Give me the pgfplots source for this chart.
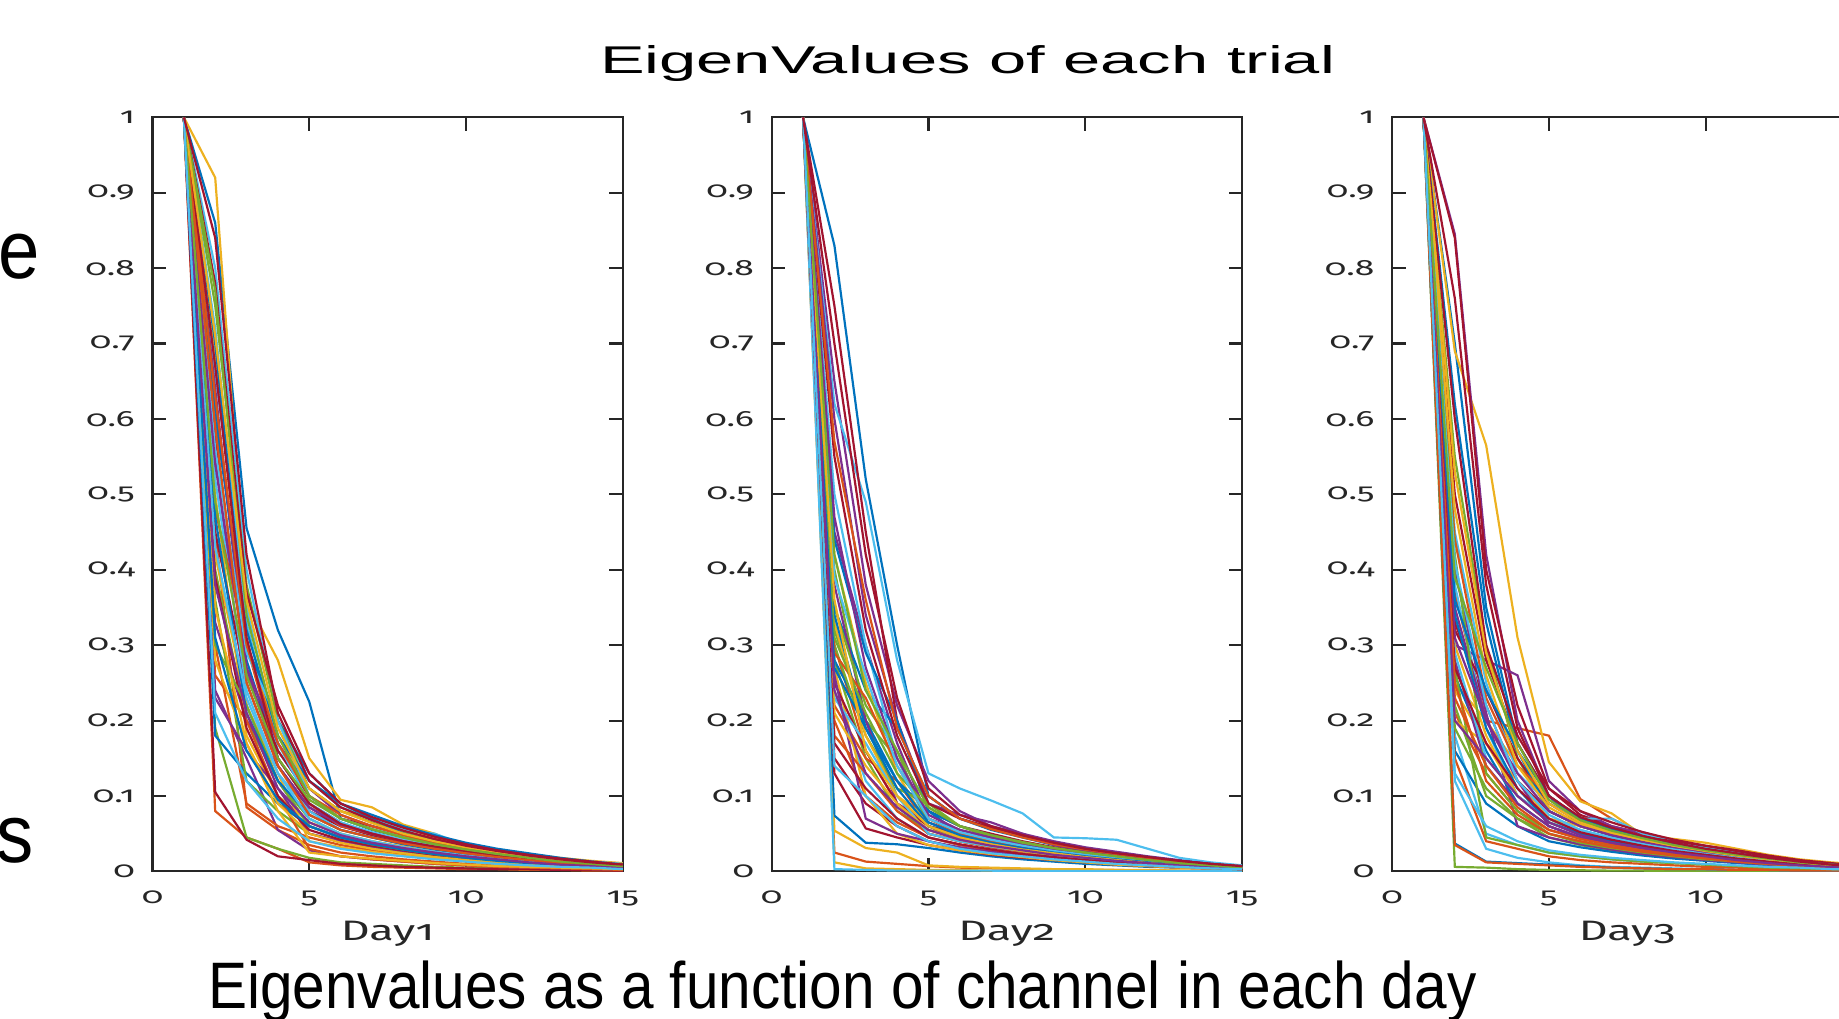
\documentclass[border=0pt]{standalone}
\usepackage{pgfplots}
\pgfplotsset{compat=1.18}
\usepackage{fontspec}
\setmainfont{Liberation Sans}
\newfontfamily\ticfont[Numbers=OldStyle,FakeStretch=1.6]{Fira Sans}
\newfontfamily\titfont[FakeStretch=1.73]{Liberation Sans}
\newfontfamily\capfont[FakeStretch=0.89]{Liberation Sans}
\newfontfamily\edgefont[FakeStretch=0.9]{Liberation Sans}

\definecolor{axgray}{HTML}{262626}
\definecolor{m1}{HTML}{0072BD}
\definecolor{m2}{HTML}{D95319}
\definecolor{m3}{HTML}{EDB120}
\definecolor{m4}{HTML}{7E2F8E}
\definecolor{m5}{HTML}{77AC30}
\definecolor{m6}{HTML}{4DBEEE}
\definecolor{m7}{HTML}{A2142F}

% one trial: eigenvalues of channels 1..15
\newcommand\tr[1]{%
  \gdef\pts{}%
  \foreach[count=\k] \v in {#1}{\xdef\pts{\pts(\k,\v)}}%
  \edef\trnext{\noexpand\addplot coordinates {\pts};}\trnext}

\pgfplotsset{
  evax/.style={
    scale only axis, width=4.703cm, height=7.541cm,
    anchor=south west,
    xmin=0, xmax=15, ymin=0, ymax=1,
    xtick={0,5,10,15},
    ytick={0,0.1,0.2,0.3,0.4,0.5,0.6,0.7,0.8,0.9,1},
    tick align=inside, tick pos=both,
    xticklabel pos=lower, yticklabel pos=left,
    major tick length=0.135cm,
    axis line style={draw=axgray,line width=0.6pt},
    tick style={draw=axgray,line width=0.6pt},
    /pgf/number format/assume math mode=true,
    xticklabel style={font=\ticfont\fontsize{6.3}{7}\selectfont,text=axgray,
      anchor=base,inner sep=0pt,yshift=-0.32cm},
    yticklabel style={font=\ticfont\fontsize{6.3}{7}\selectfont,text=axgray,
      anchor=east,inner sep=0pt,xshift=-0.17cm},
    xlabel style={font=\ticfont\fontsize{8}{9}\selectfont,text=axgray,
      at={(axis description cs:0.5,0)},anchor=base,inner sep=0pt,yshift=-0.69cm},
    cycle list={{m1},{m2},{m3},{m4},{m5},{m6},{m7}},
    no markers,
    every axis plot/.append style={line width=0.62pt},
  }
}

\begin{document}
\begin{tikzpicture}
\useasboundingbox (0,0) rectangle (18.39cm,10.18cm);
\clip (0,0) rectangle (18.39cm,10.18cm);

\node[font=\titfont\fontsize{11}{13}\selectfont,anchor=base,inner sep=0pt]
  at (9.676cm,9.44cm) {EigenValues of each trial};

\begin{axis}[evax, at={(1.525cm,1.466cm)}, xlabel={Day1}]
\tr{1,.86,.455,.32,.225,.07,.055,.045,.036,.028,.022,.017,.013,.01,.007}
\tr{1,.08,.045,.03,.012,.008,.006,.005,.004,.003,.003,.002,.002,.001,.001}
\tr{1,.92,.36,.28,.15,.095,.085,.062,.05,.032,.028,.023,.018,.014,.011}
\tr{1,.55,.22,.12,.06,.045,.035,.028,.022,.017,.013,.01,.008,.006,.004}
\tr{1,.19,.045,.03,.018,.012,.01,.008,.006,.005,.004,.003,.003,.002,.002}
\tr{1,.72,.33,.16,.1,.07,.06,.05,.045,.035,.025,.02,.016,.012,.009}
\tr{1,.105,.042,.02,.015,.01,.008,.006,.005,.004,.003,.003,.002,.002,.001}
\tr{1,.62,.28,.15,.09,.065,.05,.04,.032,.025,.02,.016,.012,.009,.006}
\tr{1,.45,.085,.055,.035,.025,.02,.016,.013,.01,.008,.006,.005,.004,.003}
\tr{1,.68,.3,.18,.11,.08,.07,.058,.045,.03,.024,.019,.015,.012,.009}
\tr{1,.24,.15,.055,.028,.02,.016,.013,.01,.008,.006,.005,.004,.003,.002}
\tr{1,.4,.2,.12,.07,.05,.04,.032,.026,.02,.016,.013,.01,.008,.006}
\tr{1,.8,.4,.2,.12,.085,.07,.055,.05,.035,.028,.022,.017,.013,.01}
\tr{1,.58,.26,.16,.1,.07,.06,.05,.042,.033,.026,.02,.016,.012,.008}
\tr{1,.18,.13,.09,.06,.045,.036,.029,.023,.018,.014,.011,.009,.007,.005}
\tr{1,.3,.09,.06,.045,.035,.028,.022,.018,.014,.011,.009,.007,.005,.004}
\tr{1,.5,.18,.1,.065,.05,.04,.033,.026,.02,.016,.013,.01,.008,.006}
\tr{1,.33,.2,.14,.085,.06,.05,.04,.032,.025,.02,.016,.012,.009,.006}
\tr{1,.36,.12,.08,.05,.04,.032,.026,.021,.017,.013,.01,.008,.006,.004}
\tr{1,.66,.35,.17,.09,.065,.052,.042,.034,.027,.021,.017,.013,.01,.007}
\tr{1,.45,.25,.14,.08,.06,.048,.038,.03,.024,.019,.015,.012,.009,.006}
\tr{1,.7,.3,.2,.13,.09,.075,.06,.048,.038,.03,.024,.018,.013,.009}
\tr{1,.26,.2,.1,.03,.02,.016,.013,.01,.008,.006,.005,.004,.003,.002}
\tr{1,.42,.22,.13,.04,.032,.026,.021,.017,.013,.01,.008,.006,.005,.004}
\tr{1,.23,.16,.11,.05,.04,.033,.027,.022,.017,.013,.01,.008,.006,.004}
\tr{1,.75,.38,.2,.11,.08,.065,.052,.04,.032,.025,.02,.015,.012,.009}
\tr{1,.52,.24,.13,.08,.055,.045,.036,.03,.024,.019,.015,.012,.009,.006}
\tr{1,.39,.19,.1,.055,.042,.034,.028,.022,.018,.014,.011,.009,.007,.005}
\tr{1,.6,.32,.18,.12,.09,.07,.05,.04,.032,.026,.02,.015,.011,.008}
\tr{1,.48,.3,.15,.09,.06,.05,.04,.032,.025,.02,.016,.012,.009,.006}
\tr{1,.28,.17,.08,.025,.02,.017,.014,.011,.009,.007,.006,.005,.004,.003}
\tr{1,.64,.27,.17,.11,.075,.06,.048,.038,.03,.024,.019,.014,.011,.008}
\tr{1,.3,.22,.12,.06,.045,.036,.029,.023,.018,.014,.011,.009,.007,.005}
\tr{1,.56,.29,.2,.1,.07,.056,.046,.037,.03,.024,.019,.015,.011,.008}
\tr{1,.78,.37,.22,.13,.09,.072,.058,.046,.036,.028,.022,.017,.013,.009}
\tr{1,.47,.21,.12,.075,.055,.045,.036,.029,.023,.018,.014,.011,.008,.006}
\tr{1,.63,.3,.17,.1,.075,.06,.048,.038,.03,.024,.019,.014,.01,.007}
\tr{1,.35,.17,.09,.05,.038,.03,.024,.019,.015,.012,.009,.007,.005,.004}
\tr{1,.54,.27,.14,.085,.062,.05,.04,.032,.026,.02,.016,.012,.009,.006}
\tr{1,.77,.34,.18,.1,.07,.056,.045,.036,.029,.023,.018,.014,.01,.007}
\tr{1,.43,.23,.13,.07,.05,.04,.032,.026,.021,.017,.013,.01,.007,.005}
\tr{1,.67,.31,.15,.09,.063,.05,.04,.033,.027,.021,.016,.012,.009,.006}
\tr{1,.31,.16,.095,.06,.045,.036,.029,.023,.018,.014,.011,.009,.007,.005}
\tr{1,.59,.25,.14,.075,.055,.045,.037,.03,.024,.019,.015,.011,.008,.006}
\tr{1,.71,.36,.19,.11,.08,.064,.05,.04,.032,.026,.02,.015,.011,.008}
\tr{1,.38,.21,.11,.065,.048,.038,.031,.025,.02,.016,.012,.009,.007,.005}
\tr{1,.49,.26,.15,.095,.07,.056,.045,.036,.029,.023,.018,.013,.01,.007}
\tr{1,.21,.12,.07,.04,.03,.024,.02,.016,.013,.01,.008,.006,.005,.003}
\tr{1,.84,.42,.21,.12,.085,.068,.054,.043,.034,.027,.021,.016,.012,.009}
\end{axis}

\begin{axis}[evax, at={(7.717cm,1.466cm)}, xlabel={Day2}]
\tr{1,.83,.52,.3,.1,.07,.055,.045,.035,.028,.022,.017,.013,.009,.006}
\tr{1,.025,.013,.01,.007,.005,.004,.003,.003,.002,.002,.001,.001,.001,.001}
\tr{1,.054,.031,.025,.008,.006,.005,.004,.003,.003,.002,.002,.001,.001,.001}
\tr{1,.65,.38,.22,.12,.08,.06,.05,.04,.032,.026,.02,.015,.011,.007}
\tr{1,.4,.2,.1,.05,.04,.033,.027,.022,.018,.014,.011,.008,.006,.004}
\tr{1,.62,.49,.28,.13,.11,.094,.077,.045,.044,.042,.03,.018,.012,.008}
\tr{1,.75,.45,.2,.08,.06,.05,.04,.032,.026,.02,.016,.012,.009,.006}
\tr{1,.074,.038,.036,.031,.025,.02,.016,.013,.01,.008,.006,.005,.004,.003}
\tr{1,.3,.16,.09,.05,.04,.032,.026,.021,.017,.013,.01,.008,.006,.004}
\tr{1,.012,.004,.003,.002,.002,.001,.001,.001,.001,.001,.001,.001,.0005,.0005}
\tr{1,.45,.3,.17,.07,.055,.045,.038,.03,.024,.019,.015,.011,.008,.005}
\tr{1,.28,.15,.08,.055,.045,.036,.029,.023,.018,.014,.011,.008,.006,.004}
\tr{1,.003,.002,.001,.001,.001,.001,.0008,.0006,.0005,.0004,.0003,.0003,.0002,.0002}
\tr{1,.15,.09,.06,.04,.03,.024,.02,.016,.013,.01,.008,.006,.005,.003}
\tr{1,.35,.24,.19,.1,.07,.058,.047,.038,.03,.024,.019,.014,.01,.006}
\tr{1,.22,.15,.12,.06,.04,.032,.026,.021,.017,.013,.01,.008,.006,.004}
\tr{1,.42,.25,.13,.06,.045,.036,.03,.024,.019,.015,.012,.009,.007,.005}
\tr{1,.6,.34,.2,.09,.075,.065,.05,.035,.028,.023,.018,.014,.01,.006}
\tr{1,.32,.2,.15,.07,.05,.04,.032,.026,.02,.016,.012,.009,.007,.005}
\tr{1,.24,.12,.07,.045,.035,.028,.023,.019,.015,.012,.009,.007,.005,.003}
\tr{1,.13,.057,.045,.035,.028,.022,.018,.015,.012,.009,.007,.005,.004,.003}
\tr{1,.28,.2,.12,.08,.06,.048,.038,.03,.024,.019,.015,.011,.008,.005}
\tr{1,.2,.1,.065,.045,.035,.028,.023,.019,.015,.012,.009,.007,.005,.003}
\tr{1,.27,.1,.05,.035,.028,.023,.019,.015,.012,.009,.007,.005,.004,.003}
\tr{1,.38,.2,.09,.065,.05,.04,.032,.026,.02,.016,.012,.009,.007,.005}
\tr{1,.3,.18,.11,.09,.06,.045,.036,.029,.023,.018,.014,.01,.007,.005}
\tr{1,.5,.3,.15,.06,.05,.04,.033,.027,.021,.016,.012,.009,.006,.004}
\tr{1,.25,.16,.09,.06,.05,.045,.038,.03,.024,.019,.015,.011,.008,.005}
\tr{1,.44,.29,.2,.08,.05,.04,.033,.027,.022,.017,.013,.01,.007,.005}
\tr{1,.18,.13,.08,.05,.04,.032,.026,.021,.017,.013,.01,.008,.006,.004}
\tr{1,.33,.18,.1,.07,.05,.04,.032,.026,.021,.016,.012,.009,.007,.005}
\tr{1,.26,.07,.05,.04,.032,.026,.021,.017,.014,.011,.008,.006,.005,.003}
\tr{1,.35,.22,.16,.06,.045,.036,.029,.023,.018,.014,.011,.008,.006,.004}
\tr{1,.23,.17,.1,.05,.04,.033,.027,.022,.018,.014,.011,.008,.006,.004}
\tr{1,.55,.32,.18,.09,.07,.058,.048,.038,.03,.024,.019,.014,.01,.007}
\tr{1,.34,.19,.11,.06,.045,.036,.029,.023,.018,.014,.011,.008,.006,.004}
\tr{1,.29,.23,.14,.07,.05,.04,.033,.027,.021,.017,.013,.01,.007,.005}
\tr{1,.21,.14,.09,.055,.042,.034,.027,.022,.018,.014,.011,.008,.006,.004}
\tr{1,.47,.27,.15,.075,.055,.045,.036,.029,.023,.018,.014,.01,.007,.005}
\tr{1,.31,.21,.13,.085,.06,.048,.038,.031,.025,.019,.015,.011,.008,.005}
\tr{1,.39,.26,.14,.07,.052,.042,.034,.027,.022,.017,.013,.01,.007,.005}
\tr{1,.17,.11,.07,.045,.036,.029,.023,.019,.015,.012,.009,.007,.005,.003}
\tr{1,.27,.19,.12,.065,.048,.038,.031,.025,.02,.016,.012,.009,.006,.004}
\tr{1,.57,.36,.19,.1,.07,.056,.045,.036,.029,.023,.018,.013,.009,.006}
\tr{1,.36,.16,.1,.06,.045,.036,.029,.024,.019,.015,.011,.008,.006,.004}
\tr{1,.24,.13,.085,.055,.042,.034,.028,.022,.018,.014,.011,.008,.006,.004}
\tr{1,.42,.24,.16,.085,.06,.048,.039,.031,.025,.02,.015,.011,.008,.005}
\tr{1,.14,.1,.06,.04,.03,.024,.02,.016,.013,.01,.008,.006,.004,.003}
\tr{1,.7,.42,.23,.11,.075,.06,.048,.038,.03,.024,.019,.014,.01,.007}
\end{axis}

\begin{axis}[evax, at={(13.921cm,1.466cm)}, xlabel={Day3}, xtick={0,5,10}]
\tr{1,.7,.35,.17,.1,.06,.048,.038,.03,.024,.019,.015,.011,.008,.005}
\tr{1,.37,.2,.19,.18,.096,.07,.05,.038,.03,.024,.018,.013,.009,.006}
\tr{1,.69,.565,.31,.145,.093,.077,.048,.043,.038,.03,.022,.016,.012,.009}
\tr{1,.845,.42,.2,.1,.07,.058,.052,.04,.03,.024,.018,.013,.009,.006}
\tr{1,.006,.005,.003,.002,.0015,.001,.001,.0008,.0006,.0005,.0004,.0003,.0002,.0002}
\tr{1,.12,.03,.018,.012,.008,.006,.005,.004,.003,.002,.002,.001,.001,.001}
\tr{1,.84,.4,.22,.11,.075,.06,.05,.04,.032,.026,.02,.014,.01,.007}
\tr{1,.037,.013,.011,.009,.007,.005,.004,.003,.003,.002,.002,.001,.001,.001}
\tr{1,.21,.13,.08,.055,.045,.036,.029,.023,.018,.014,.011,.008,.006,.004}
\tr{1,.25,.2,.14,.09,.07,.055,.045,.036,.028,.022,.017,.013,.009,.006}
\tr{1,.3,.28,.26,.12,.08,.06,.05,.04,.032,.025,.019,.014,.01,.007}
\tr{1,.22,.1,.07,.045,.035,.028,.023,.019,.015,.012,.009,.007,.005,.003}
\tr{1,.18,.05,.035,.025,.02,.016,.013,.011,.009,.007,.005,.004,.003,.002}
\tr{1,.33,.22,.12,.08,.06,.05,.045,.04,.033,.026,.02,.014,.01,.007}
\tr{1,.16,.09,.06,.04,.032,.026,.021,.017,.014,.011,.008,.006,.005,.003}
\tr{1,.15,.04,.03,.02,.015,.012,.01,.008,.006,.005,.004,.003,.002,.001}
\tr{1,.2,.17,.12,.07,.05,.04,.032,.026,.021,.016,.012,.009,.007,.005}
\tr{1,.4,.21,.06,.045,.036,.029,.023,.019,.015,.012,.009,.007,.005,.003}
\tr{1,.55,.3,.15,.08,.06,.048,.04,.033,.027,.021,.016,.012,.009,.006}
\tr{1,.38,.19,.1,.07,.055,.045,.037,.03,.024,.019,.014,.01,.007,.005}
\tr{1,.5,.28,.17,.1,.07,.056,.046,.038,.031,.025,.019,.014,.01,.007}
\tr{1,.26,.16,.09,.06,.045,.036,.029,.023,.018,.014,.011,.008,.006,.004}
\tr{1,.035,.012,.01,.008,.006,.005,.004,.003,.003,.002,.002,.001,.001,.001}
\tr{1,.24,.17,.1,.065,.05,.04,.033,.027,.022,.017,.013,.01,.007,.005}
\tr{1,.28,.14,.09,.06,.045,.036,.03,.025,.02,.016,.012,.009,.006,.004}
\tr{1,.27,.045,.035,.025,.02,.016,.013,.011,.009,.007,.005,.004,.003,.002}
\tr{1,.45,.25,.13,.09,.07,.07,.05,.04,.032,.025,.019,.014,.01,.007}
\tr{1,.32,.24,.15,.09,.065,.052,.045,.04,.034,.028,.021,.015,.011,.007}
\tr{1,.62,.33,.16,.08,.06,.048,.039,.031,.025,.02,.015,.011,.008,.005}
\tr{1,.44,.23,.14,.1,.07,.056,.045,.036,.029,.023,.017,.012,.009,.006}
\tr{1,.3,.18,.1,.07,.06,.05,.04,.033,.026,.02,.015,.011,.008,.005}
\tr{1,.35,.2,.12,.06,.045,.036,.029,.023,.018,.014,.011,.008,.006,.004}
\tr{1,.42,.13,.08,.05,.04,.033,.027,.022,.018,.014,.011,.008,.006,.004}
\tr{1,.29,.15,.1,.07,.05,.04,.033,.027,.021,.016,.012,.009,.006,.004}
\tr{1,.6,.3,.18,.11,.08,.065,.052,.042,.034,.027,.02,.014,.01,.007}
\tr{1,.34,.19,.11,.065,.05,.04,.033,.027,.021,.016,.012,.009,.006,.004}
\tr{1,.23,.14,.085,.055,.043,.035,.028,.023,.018,.014,.011,.008,.006,.004}
\tr{1,.48,.26,.14,.085,.062,.05,.04,.033,.026,.02,.015,.011,.008,.005}
\tr{1,.31,.2,.13,.08,.06,.048,.039,.031,.025,.019,.015,.011,.008,.005}
\tr{1,.19,.11,.07,.05,.038,.031,.025,.02,.016,.013,.01,.007,.005,.003}
\tr{1,.41,.22,.12,.075,.055,.044,.036,.029,.023,.018,.014,.01,.007,.005}
\tr{1,.27,.17,.11,.07,.052,.042,.034,.027,.022,.017,.013,.01,.007,.005}
\tr{1,.36,.24,.16,.1,.07,.056,.045,.036,.029,.023,.017,.012,.009,.006}
\tr{1,.25,.12,.075,.05,.04,.032,.026,.021,.017,.013,.01,.007,.005,.003}
\tr{1,.53,.29,.16,.09,.065,.052,.042,.034,.027,.021,.016,.012,.008,.005}
\tr{1,.2,.15,.1,.065,.048,.038,.031,.025,.02,.015,.011,.008,.006,.004}
\tr{1,.39,.27,.17,.095,.068,.054,.044,.035,.028,.022,.017,.012,.009,.006}
\tr{1,.13,.06,.04,.028,.022,.018,.015,.012,.01,.008,.006,.005,.003,.002}
\tr{1,.76,.38,.19,.1,.072,.058,.047,.038,.03,.024,.018,.013,.009,.006}
\end{axis}

\node[font=\edgefont\fontsize{23.5}{26}\selectfont,anchor=base east,inner sep=0pt]
  at (0.41cm,7.40cm) {e};
\node[font=\edgefont\fontsize{23.5}{26}\selectfont,anchor=base east,inner sep=0pt]
  at (0.34cm,1.56cm) {s};
\node[font=\capfont\fontsize{18.7}{22}\selectfont,anchor=base west,inner sep=0pt]
  at (2.076cm,0.10cm) {Eigenvalues as a function of channel in each day};
\end{tikzpicture}
\end{document}
